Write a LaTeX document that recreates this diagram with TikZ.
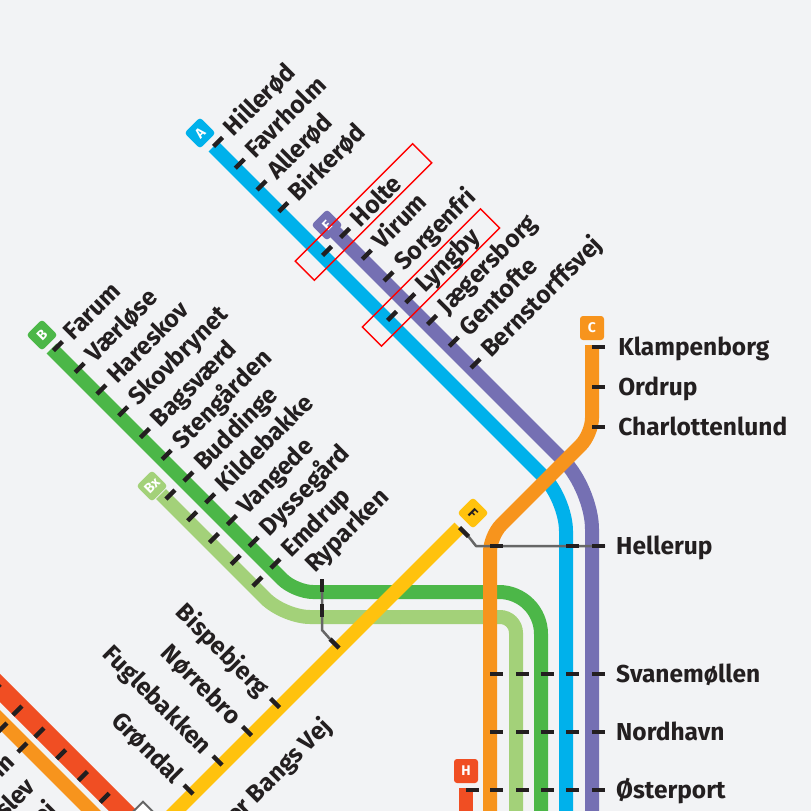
\documentclass[tikz,border=0pt]{standalone}
\usepackage{fontspec}
\setmainfont{Fira Sans}

\definecolor{bg}{HTML}{F2F3F5}
\definecolor{ink}{HTML}{231F20}
\definecolor{linkgray}{HTML}{666666}
\definecolor{lineA}{HTML}{00B1EB}
\definecolor{lineB}{HTML}{4CB748}
\definecolor{lineBx}{HTML}{A3D179}
\definecolor{lineC}{HTML}{F7941D}
\definecolor{lineE}{HTML}{7570B3}
\definecolor{lineF}{HTML}{FFC20E}
\definecolor{lineH}{HTML}{F04E23}

\tikzset{
  metro/.style={line width=14pt},
  stopbar/.style={draw=ink, line width=4.5pt},
  link/.style={draw=linkgray, line width=2.5pt, line join=round},
  lbl/.style={text=ink, inner sep=0pt, font=\bfseries\fontsize{24.5}{28}\selectfont},
  badge/.style={rounded corners=3pt, minimum size=22pt, inner sep=1pt,
    text=white, font=\bfseries\fontsize{14}{14}\selectfont},
  hilite/.style={draw=red, line width=1.5pt, inner sep=0pt}
}

\begin{document}
\begin{tikzpicture}[x=1pt,y=-1pt]

  \useasboundingbox (0,0) rectangle (811,811);
  \clip (0,0) rectangle (811,811);
  \fill[bg] (0,0) rectangle (811,811);

  \coordinate (a0) at (213.5,146.5);
  \coordinate (a1) at (566,499);
  \coordinate (a2) at (566,830);
  \coordinate (e0) at (334,231);
  \coordinate (e1) at (592,489);
  \coordinate (e2) at (592,830);
  \coordinate (b0) at (51.5,348.5);
  \coordinate (b1) at (295,592);
  \coordinate (bm) at (420,592);
  \coordinate (b2) at (541,592);
  \coordinate (b3) at (541,830);
  \coordinate (bx0) at (161,494);
  \coordinate (bx1) at (284,617);
  \coordinate (bxm) at (400,617);
  \coordinate (bx2) at (516,617);
  \coordinate (bx3) at (516,830);
  \coordinate (c0) at (592,345);
  \coordinate (c1) at (592,434);
  \coordinate (c2) at (490,536);
  \coordinate (c3) at (490,830);
  \coordinate (f0) at (459.5,527.5);
  \coordinate (f1) at (150,837);
  \coordinate (h0) at (466,788);
  \coordinate (h1) at (466,830);
  \coordinate (hw0) at (-20,668);
  \coordinate (hw1) at (150,838);
  \coordinate (cw0) at (-20,700);
  \coordinate (cw1) at (120,840);

  \draw[metro, lineB, rounded corners=18pt] (b0) -- (b1) -- (bm);
  \draw[metro, lineB, rounded corners=42pt] (bm) -- (b2) -- (b3);
  \draw[metro, lineBx, rounded corners=26pt] (bx0) -- (bx1) -- (bxm);
  \draw[metro, lineBx, rounded corners=16pt] (bxm) -- (bx2) -- (bx3);
  \draw[metro, lineA, rounded corners=32pt] (a0) -- (a1) -- (a2);
  \draw[metro, lineE, rounded corners=40pt] (e0) -- (e1) -- (e2);
  \draw[metro, lineC, rounded corners=16pt] (c0) -- (c1) -- (c2) -- (c3);
  \draw[metro, lineF] (f0) -- (f1);
  \draw[metro, lineH] (h0) -- (h1);
  \draw[metro, lineH, line width=20pt] (hw0) -- (hw1);
  \draw[metro, lineC] (cw0) -- (cw1);

  \coordinate (fhel) at (468.5,536.5);
  \coordinate (hel) at (476,546);
  \coordinate (helE) at (605,546);
  \coordinate (ryp) at (322,579);
  \coordinate (rypb) at (322,630);
  \coordinate (rypf) at (330,639);
  \draw[link] (fhel) -- (hel) -- (helE);
  \draw[link] (ryp) -- (rypb) -- (rypf);

  \draw[stopbar] (f0) -- (fhel);
  \draw[stopbar] (ryp) -- (322,592);
  \draw[stopbar] (322,604) -- (322,617);
  \draw[stopbar] (339,648) -- (rypf);
  \foreach \x in {490,566,592}
    \draw[stopbar] (\x,546) -- ++(12.5,0);
  \node[lbl, anchor=base west] (hellerup) at (616,554) {Hellerup};

  \foreach \st/\s [count=\i] in {Hillerød/360, Favrholm/403.5, Allerød/447, Birkerød/490.5}
    \draw[stopbar] ({(\s+67)/2},{(\s-67)/2}) -- ++(9,-9) ++(9.5,1.5)
      node[lbl, rotate=45, anchor=base west] (a\i) {\st};
  \foreach \s in {578,708}
    \draw[stopbar] ({(\s+67)/2},{(\s-67)/2}) -- ++(9,-9);

  \foreach \st/\s [count=\i] in {Holte/578, Virum/621.5, Sorgenfri/665, Lyngby/708.5,
      Jægersborg/752, Gentofte/795.5, Bernstorffsvej/839}
    \draw[stopbar] ({(\s+103)/2},{(\s-103)/2}) -- ++(9,-9) ++(9.5,1.5)
      node[lbl, rotate=45, anchor=base west] (e\i) {\st};

  \foreach \st/\s [count=\i] in {Farum/404, Værløse/447.5, Hareskov/491, Skovbrynet/534.5,
      Bagsværd/578, Stengården/621.5, Buddinge/665, Kildebakke/708.5, Vangede/752,
      Dyssegård/795.5, Emdrup/839}
    \draw[stopbar] ({(\s-297)/2},{(\s+297)/2}) -- ++(9,-9) ++(9.5,1.5)
      node[lbl, rotate=45, anchor=base west] (b\i) {\st};
  \foreach \s in {665,708.5,752,795.5,839}
    \draw[stopbar] ({(\s-333)/2},{(\s+333)/2}) -- ++(9,-9);
  \node[lbl, rotate=45, anchor=base west] (ryparken) at (315,574) {Ryparken};

  \foreach \st/\d [count=\i] in {Bispebjerg/-428, Nørrebro/-484, Fuglebakken/-543, Grøndal/-601}
    \draw[stopbar] ({(987+\d)/2},{(987-\d)/2}) -- ++(-9,-9) ++(-9.5,1.5)
      node[lbl, rotate=-45, anchor=base east] (f\i) {\st};
  \node[lbl, rotate=45, anchor=base east] (bangs) at (333,728) {Peter Bangs Vej};

  \foreach \st/\y [count=\i] in {Klampenborg/347, Ordrup/387, Charlottenlund/427}
    \draw[stopbar] (592,\y) -- ++(13,0) ++(11,8)
      node[lbl, anchor=base west] (c\i) {\st};

  \foreach \st/\y [count=\i] in {Svanemøllen/674, Nordhavn/732, Østerport/790} {
    \foreach \x in {490,516,541,566,592}
      \draw[stopbar] (\x,\y) -- ++(12.5,0);
    \node[lbl, anchor=base west] (k\i) at (616,\y+8) {\st};
  }
  \draw[stopbar] (466,790) -- ++(12.5,0);

  \foreach \s in {684.5,728,772,815.5,859,902.5}
    \draw[stopbar] ({(\s-688)/2+2},{(\s+688)/2-2}) -- ++(-9,9);
  \foreach \s in {730,770}
    \draw[stopbar] ({(\s-720)/2+2},{(\s+720)/2-2}) -- ++(-9,9);
  \node[lbl, rotate=45, anchor=base east] (husum) at (16,764) {Husum};
  \node[lbl, rotate=45, anchor=base east] (islev) at (37,788) {Islev};
  \node[lbl, rotate=45, anchor=base east] (jylling) at (58,811) {Jyllingevej};
  \node[draw=linkgray, fill=white, line width=2pt, rotate=45, minimum size=16pt,
    inner sep=0pt] (flint) at (143,813) {};

  \node[badge, fill=lineA, rotate=45] (badgeA) at (200,133) {A};
  \node[badge, fill=lineE, rotate=45] (badgeE) at (327,225) {E};
  \node[badge, fill=lineB, rotate=45] (badgeB) at (42,335) {B};
  \node[badge, fill=lineBx, rotate=45] (badgeBx) at (152,486) {Bx};
  \node[badge, fill=lineF, text=ink, rotate=-45] (badgeF) at (473,513) {F};
  \node[badge, fill=lineC, minimum size=24pt] (badgeC) at (592,328) {C};
  \node[badge, fill=lineH, minimum size=24pt] (badgeH) at (466,771) {H};

  \node[hilite, rotate=45, minimum width=166pt, minimum height=27pt] (boxHolte) at (363.5,212) {};
  \node[hilite, rotate=45, minimum width=167pt, minimum height=27pt] (boxLyngby) at (431,277.5) {};

\end{tikzpicture}
\end{document}
